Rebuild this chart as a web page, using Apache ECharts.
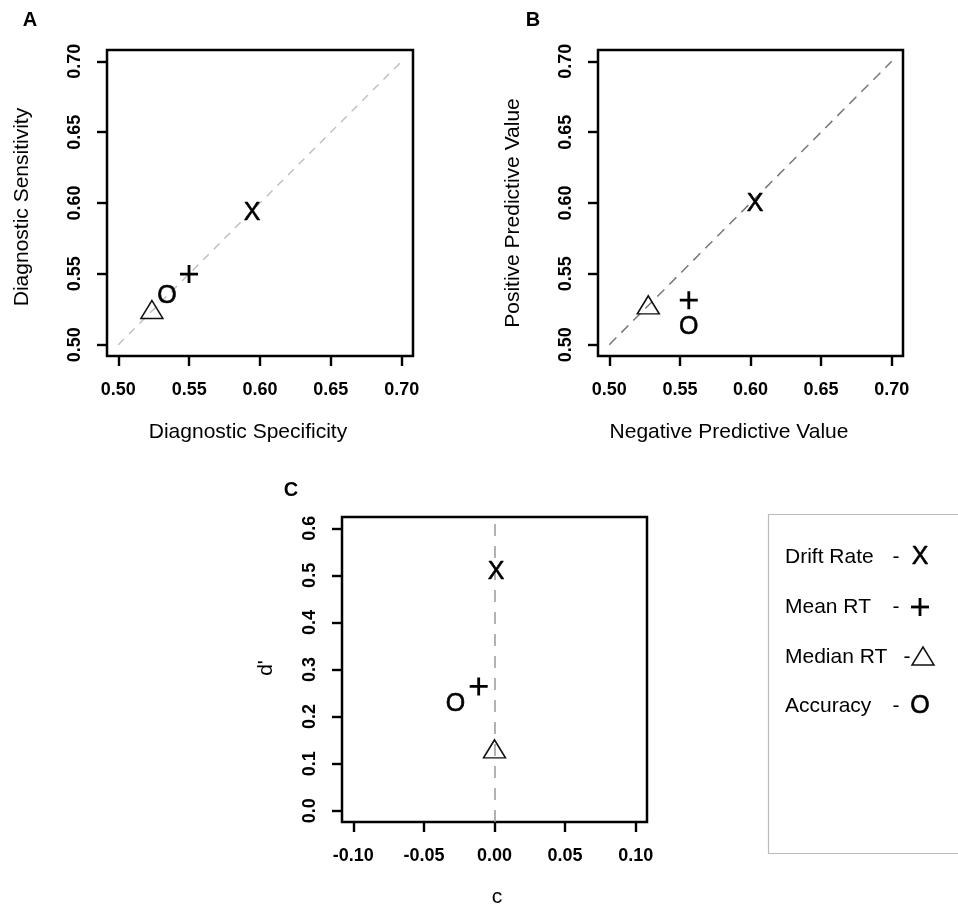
<!DOCTYPE html>
<html>
<head>
<meta charset="utf-8">
<script src="https://cdn.jsdelivr.net/npm/echarts@6/dist/echarts.min.js"></script>
<style>
  html, body { margin: 0; padding: 0; background: #fff; }
  #chart { width: 958px; height: 905px; }
</style>
</head>
<body>
<div id="chart"></div>
<script>
// Measures compared across the four indices
const markLabels = ['Drift Rate', 'Mean RT', 'Median RT', 'Accuracy'];
const markGlyphs = ['X', '+', 'tri', 'O'];

// Panel A: diagnostic specificity (x) vs sensitivity (y)
const specificity = [0.5945, 0.5499, 0.5237, 0.5344];
const sensitivity = [0.5932, 0.5498, 0.5227, 0.5340];

// Panel B: negative (x) vs positive (y) predictive value
const npv = [0.6032, 0.5563, 0.5276, 0.5562];
const ppv = [0.5990, 0.5314, 0.5260, 0.5126];

// Panel C: criterion c (x) vs sensitivity d' (y)
const criterion = [0.0012, -0.0112, 0.0000, -0.0276];
const dPrime = [0.506, 0.264, 0.125, 0.226];

// Tick values
const rateTicks = [0.50, 0.55, 0.60, 0.65, 0.70];
const cTicks = [-0.10, -0.05, 0.00, 0.05, 0.10];
const dTicks = [0.0, 0.1, 0.2, 0.3, 0.4, 0.5, 0.6];

// Reference line y = x over the tick range
const identityLine = [[0.50, 0.50], [0.70, 0.70]];

const FONT = 'Liberation Sans, Arial, Helvetica, sans-serif';
const GLYPH_SIZE = 25;

function makeAxis(gridIndex, min, max, ticks, digits, isY) {
  return {
    type: 'value',
    gridIndex: gridIndex,
    min: min,
    max: max,
    position: isY ? 'left' : 'bottom',
    axisLine: { show: false, onZero: false },
    splitLine: { show: false },
    axisTick: {
      show: true,
      customValues: ticks,
      length: 10,
      lineStyle: { color: '#000', width: 2.4 }
    },
    axisLabel: {
      show: true,
      customValues: ticks,
      formatter: v => Number(v).toFixed(digits),
      color: '#000',
      fontFamily: FONT,
      fontWeight: 'bold',
      fontSize: 18,
      margin: isY ? 23 : 25,
      rotate: isY ? 90 : 0
    }
  };
}

const PLUS_PATH = 'path://M0 7.6L18 7.6L18 10.4L0 10.4Z M7.6 0L10.4 0L10.4 18L7.6 18Z';

function markSeries(gridIndex, xs, ys) {
  return markGlyphs.map((g, i) => {
    const base = {
      name: markLabels[i],
      type: 'scatter',
      xAxisIndex: gridIndex,
      yAxisIndex: gridIndex,
      data: [[xs[i], ys[i]]],
      silent: true,
      z: 5,
      emphasis: { disabled: true }
    };
    if (g === '+') {
      return Object.assign(base, {
        symbol: PLUS_PATH,
        symbolSize: 18,
        itemStyle: { color: '#000', opacity: 1 }
      });
    }
    if (g === 'tri') {
      return Object.assign(base, {
        symbol: 'triangle',
        symbolSize: [22, 18],
        symbolOffset: [0, -3],
        itemStyle: { color: 'rgba(0,0,0,0)', borderColor: '#111', borderWidth: 1.5, opacity: 1 }
      });
    }
    return Object.assign(base, {
      symbol: 'circle',
      symbolSize: 1,
      itemStyle: { color: 'rgba(0,0,0,0)', opacity: 1 },
      label: {
        show: true,
        position: 'inside',
        formatter: g,
        color: '#000',
        opacity: 1,
        fontFamily: FONT,
        fontSize: GLYPH_SIZE,
        textBorderColor: '#000',
        textBorderWidth: 0.6
      }
    });
  });
}

function textEl(text, x, y, size, opts) {
  opts = opts || {};
  const style = {
    text: text,
    fill: '#000',
    font: (opts.bold ? 'bold ' : '') + size + 'px ' + FONT,
    align: opts.align || 'center',
    verticalAlign: 'middle'
  };
  if (opts.stroke) {
    style.stroke = '#000';
    style.lineWidth = opts.stroke;
  }
  return {
    type: 'text',
    x: x,
    y: y,
    rotation: opts.rotate ? Math.PI / 2 : 0,
    silent: true,
    style: style
  };
}

const grids = [
  { left: 107, top: 50, width: 306, height: 306 },
  { left: 598, top: 50, width: 305, height: 306 },
  { left: 342, top: 517, width: 305, height: 305 }
].map(g => Object.assign(g, {
  show: true,
  borderColor: '#000',
  borderWidth: 2.5,
  backgroundColor: 'transparent',
  containLabel: false
}));

const series = [
  {
    type: 'line', xAxisIndex: 0, yAxisIndex: 0, data: identityLine,
    symbol: 'none', silent: true, z: 2,
    lineStyle: { color: '#bdbdbd', width: 1.4, type: [8, 7] }
  },
  {
    type: 'line', xAxisIndex: 1, yAxisIndex: 1, data: identityLine,
    symbol: 'none', silent: true, z: 2,
    lineStyle: { color: '#777', width: 1.5, type: [10, 7] }
  },
  {
    type: 'scatter', xAxisIndex: 2, yAxisIndex: 2, data: [], silent: true,
    markLine: {
      silent: true,
      symbol: 'none',
      label: { show: false },
      lineStyle: { color: '#999', width: 1.5, type: [12, 10] },
      data: [{ xAxis: 0 }]
    }
  }
].concat(
  markSeries(0, specificity, sensitivity),
  markSeries(1, npv, ppv),
  markSeries(2, criterion, dPrime)
);

// Legend panel entries
const legendY = [557, 607, 657, 706];
const legendGraphics = [
  {
    type: 'rect', silent: true,
    shape: { x: 768.5, y: 514.5, width: 300, height: 339 },
    style: { fill: 'none', stroke: '#bbb', lineWidth: 1.2 }
  }
];
markLabels.forEach((lab, i) => {
  const y = legendY[i];
  legendGraphics.push(textEl(lab, 785, y, 21, { align: 'left' }));
  const g = markGlyphs[i];
  legendGraphics.push(textEl('-', g === 'tri' ? 907 : 896, y, 21));
  if (g === 'tri') {
    legendGraphics.push({
      type: 'polygon', silent: true,
      shape: { points: [[923, y - 10], [912, y + 8], [934, y + 8]] },
      style: { fill: 'none', stroke: '#111', lineWidth: 1.5 }
    });
  } else if (g === '+') {
    legendGraphics.push({
      type: 'rect', silent: true,
      shape: { x: 911, y: y - 1.4, width: 18, height: 2.8 },
      style: { fill: '#000' }
    });
    legendGraphics.push({
      type: 'rect', silent: true,
      shape: { x: 918.6, y: y - 9, width: 2.8, height: 18 },
      style: { fill: '#000' }
    });
  } else {
    legendGraphics.push(textEl(g, 920, y, GLYPH_SIZE, { stroke: 0.6 }));
  }
});

const option = {
  backgroundColor: '#fff',
  animation: false,
  grid: grids,
  xAxis: [
    makeAxis(0, 0.492, 0.708, rateTicks, 2, false),
    makeAxis(1, 0.492, 0.708, rateTicks, 2, false),
    makeAxis(2, -0.108, 0.108, cTicks, 2, false)
  ],
  yAxis: [
    makeAxis(0, 0.492, 0.708, rateTicks, 2, true),
    makeAxis(1, 0.492, 0.708, rateTicks, 2, true),
    makeAxis(2, -0.024, 0.624, dTicks, 1, true)
  ],
  series: series,
  graphic: [
    // panel letters
    textEl('A', 30, 20, 20, { bold: true }),
    textEl('B', 533, 20, 20, { bold: true }),
    textEl('C', 291, 490, 20, { bold: true }),
    // axis titles
    textEl('Diagnostic Specificity', 248, 432, 21),
    textEl('Diagnostic Sensitivity', 22, 207, 21, { rotate: true }),
    textEl('Negative Predictive Value', 729, 432, 21),
    textEl('Positive Predictive Value', 513, 213, 21, { rotate: true }),
    textEl('c', 497, 897, 21),
    textEl("d'", 266, 668, 21, { rotate: true })
  ].concat(legendGraphics)
};

const chart = echarts.init(document.getElementById('chart'), null, { renderer: 'canvas' });
chart.setOption(option);
</script>
</body>
</html>
